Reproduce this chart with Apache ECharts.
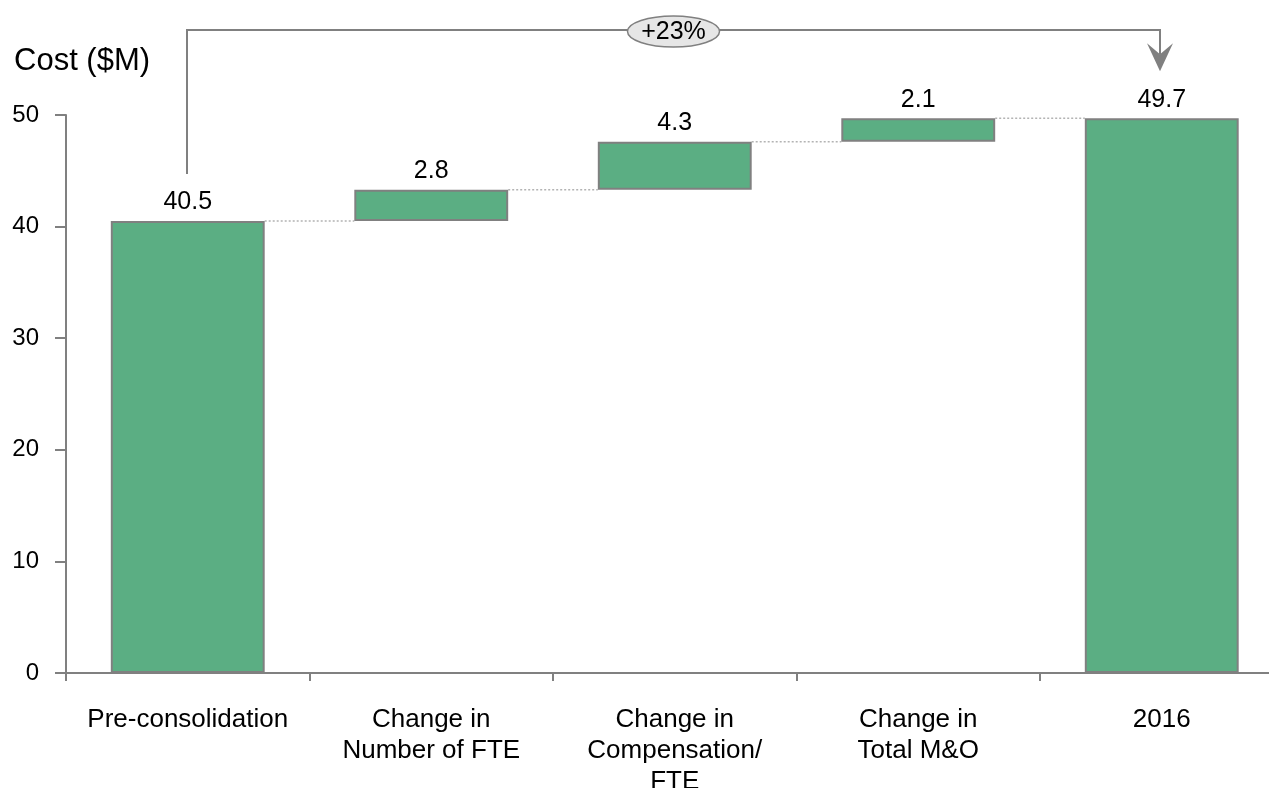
<!DOCTYPE html>
<html>
<head>
<meta charset="utf-8">
<title>Cost waterfall</title>
<script src="https://cdn.jsdelivr.net/npm/echarts@6/dist/echarts.min.js"></script>
<style>
  html, body { margin: 0; padding: 0; background: #ffffff; overflow: hidden; }
  #chart { width: 1269px; height: 788px; }
</style>
</head>
<body>
<div id="chart"></div>
<script>
// Cost build-up from pre-consolidation to 2016 ($M)
const categories = [
  'Pre-consolidation',
  'Change in\nNumber of FTE',
  'Change in\nCompensation/\nFTE',
  'Change in\nTotal M&O',
  '2016'
];
const startValue = 40.5;
const changes = [2.8, 4.3, 2.1];
const endValue = 49.7;
const yTicks = { min: 0, max: 50, interval: 10 };

// Visible bar heights and invisible bases for the waterfall stack
const barValues = [startValue, ...changes, endValue];
const baseValues = [0];
const levels = [startValue];
let running = startValue;
changes.forEach(c => { baseValues.push(running); running += c; levels.push(+running.toFixed(1)); });
baseValues.push(0);

const BAR_FRACTION = 0.632;
const GREEN = '#5bae83';
const GREY = '#808080';
const FONT = '"Liberation Sans", Arial, sans-serif';

const chart = echarts.init(document.getElementById('chart'), null, { renderer: 'canvas' });

chart.setOption({
  animation: false,
  textStyle: { fontFamily: FONT },
  title: {
    text: 'Cost ($M)',
    left: 9,
    top: 41,
    textStyle: { fontFamily: FONT, fontSize: 31, fontWeight: 'normal', color: '#000' }
  },
  // the last category band runs slightly past the right edge of the canvas
  grid: {
    left: 66, top: 115, width: 1217.5, height: 558,
    containLabel: false, outerBoundsMode: 'none'
  },
  xAxis: {
    type: 'category',
    data: categories,
    axisLine: { lineStyle: { color: GREY, width: 2 } },
    axisTick: { show: true, interval: 0, length: 8, lineStyle: { color: GREY, width: 2 } },
    axisLabel: {
      interval: 0, margin: 31, color: '#000', fontSize: 26, lineHeight: 31,
      fontFamily: FONT, align: 'center'
    }
  },
  yAxis: {
    type: 'value',
    min: yTicks.min, max: yTicks.max, interval: yTicks.interval,
    splitLine: { show: false },
    axisLine: { show: true, lineStyle: { color: GREY, width: 2 } },
    axisTick: { show: true, length: 11, lineStyle: { color: GREY, width: 2 } },
    axisLabel: { margin: 27, color: '#000', fontSize: 24, fontFamily: FONT }
  },
  series: [
    {
      name: 'base',
      type: 'bar',
      stack: 'total',
      barWidth: (BAR_FRACTION * 100) + '%',
      itemStyle: { color: 'transparent', borderColor: 'transparent' },
      emphasis: { disabled: true },
      silent: true,
      data: baseValues
    },
    {
      name: 'cost',
      type: 'bar',
      stack: 'total',
      barWidth: (BAR_FRACTION * 100) + '%',
      itemStyle: { color: GREEN, borderColor: GREY, borderWidth: 2 },
      label: {
        show: true, position: 'top', distance: 6,
        color: '#000', fontSize: 25, fontFamily: FONT,
        formatter: p => p.value.toFixed(1)
      },
      data: barValues
    },
    {
      // dotted step connectors between neighbouring bars
      name: 'connectors',
      type: 'custom',
      silent: true,
      z: 1,
      renderItem: (params, api) => {
        const i = api.value(0);
        const lvl = api.value(1);
        const p0 = api.coord([i, lvl]);
        const p1 = api.coord([i + 1, lvl]);
        const half = api.size([1, 0])[0] * BAR_FRACTION / 2;
        return {
          type: 'line',
          shape: { x1: p0[0] + half, y1: p0[1], x2: p1[0] - half, y2: p1[1] },
          style: { stroke: '#b3b3b3', lineWidth: 1.5, lineDash: [2, 2] }
        };
      },
      data: levels.map((v, i) => [i, v])
    }
  ]
});

// Bracket with growth badge from the first bar to the last one
function drawBracket() {
  const last = categories.length - 1;
  const a = chart.convertToPixel({ gridIndex: 0 }, [0, startValue]);
  const b = chart.convertToPixel({ gridIndex: 0 }, [last, endValue]);
  const topY = 30;
  const x0 = Math.round(a[0]) - 1;
  const x1 = Math.round(b[0]) - 2;
  const startY = a[1] - 47;
  const tipY = b[1] - 47;
  const notchY = tipY - 17;
  const midX = (x0 + x1) / 2;
  const growth = Math.round((endValue - startValue) / startValue * 100);
  chart.setOption({
    graphic: [
      {
        type: 'polyline', silent: true,
        shape: { points: [[x0, startY], [x0, topY], [x1, topY], [x1, notchY]] },
        style: { stroke: GREY, lineWidth: 2, fill: null }
      },
      {
        type: 'polygon', silent: true,
        shape: { points: [[x1, tipY], [x1 - 13, tipY - 28], [x1, notchY], [x1 + 13, tipY - 28]] },
        style: { fill: GREY, stroke: null }
      },
      {
        type: 'ellipse', silent: true,
        shape: { cx: midX, cy: topY + 1.5, rx: 46, ry: 15.5 },
        style: { fill: '#e6e6e6', stroke: GREY, lineWidth: 1.5 }
      },
      {
        type: 'text', silent: true,
        x: midX, y: topY + 2.5,
        style: {
          text: '+' + growth + '%', fill: '#000', fontSize: 25, fontFamily: FONT,
          align: 'center', verticalAlign: 'middle'
        }
      }
    ]
  });
}
drawBracket();
</script>
</body>
</html>
